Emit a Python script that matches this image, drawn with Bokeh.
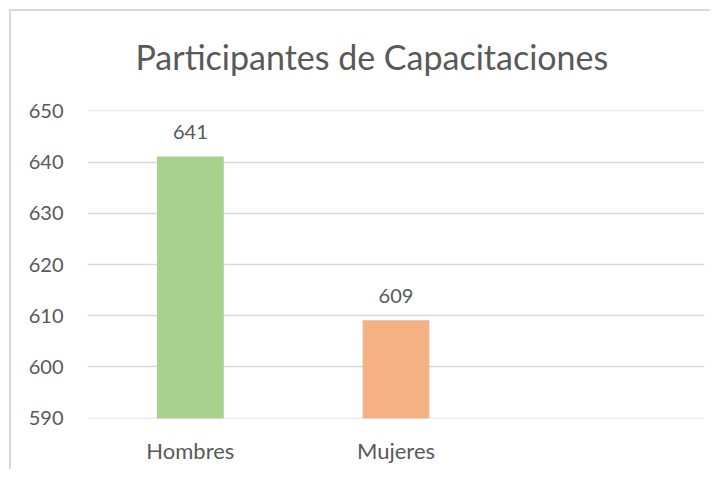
from bokeh.plotting import figure
from bokeh.models import ColumnDataSource, FixedTicker, Range1d, FactorRange
from bokeh.core.properties import value
from bokeh.embed import file_html
from bokeh.resources import INLINE

title_text = "Participantes de Capacitaciones"
categories = ["Hombres", "Mujeres", " "]
bar_categories = ["Hombres", "Mujeres"]
participants = [641, 609]
bar_colors = ["#A9D18E", "#F4B183"]
y_ticks = [590, 600, 610, 620, 630, 640, 650]

FONT = "Lato"
TXT = "#595959"
GRID = "#D9D9D9"

source = ColumnDataSource(dict(
    cat=bar_categories,
    val=participants,
    color=bar_colors,
    label=[str(v) for v in participants],
))

p = figure(
    width=710, height=469,
    x_range=FactorRange(*categories, range_padding=0),
    y_range=Range1d(589.93, 650.07),
    output_backend="svg", toolbar_location=None,
    min_border_left=87, min_border_right=6,
    min_border_top=109, min_border_bottom=51,
)
p.border_fill_color = None
p.styles = {
    "background": (
        f"linear-gradient({GRID},{GRID}) 9px 9px / 2px calc(100% - 9px) no-repeat, "
        f"linear-gradient({GRID},{GRID}) 9px 9px / calc(100% - 9px) 2px no-repeat, "
        "white"
    )
}

p.title.text = title_text
p.title.align = "left"
p.title.offset = 48
p.title.vertical_align = "bottom"
p.title.text_font = FONT
p.title.text_font_style = "normal"
p.title.text_font_size = "34px"
p.title.text_color = TXT
p.title.standoff = 67

p.vbar(x="cat", top="val", bottom=590, width=0.32, color="color", source=source)
p.text(x="cat", y="val", text="label", source=source,
       text_align="center", text_baseline="middle", y_offset=-25,
       text_font=value(FONT), text_font_size="20px", text_color=TXT)

p.outline_line_color = None
p.xgrid.grid_line_color = None
p.ygrid.grid_line_color = GRID
p.ygrid.grid_line_width = 1.5

p.yaxis.ticker = FixedTicker(ticks=y_ticks)
for ax in (p.xaxis[0], p.yaxis[0]):
    ax.axis_line_color = None
    ax.major_tick_line_color = None
    ax.minor_tick_line_color = None
    ax.major_label_text_font = FONT
    ax.major_label_text_color = TXT
p.yaxis.major_label_text_font_size = "20px"
p.xaxis.major_label_text_font_size = "22px"
p.yaxis.major_label_standoff = 18
p.xaxis.major_label_standoff = 12

open("out.html", "w").write(file_html(p, INLINE))
